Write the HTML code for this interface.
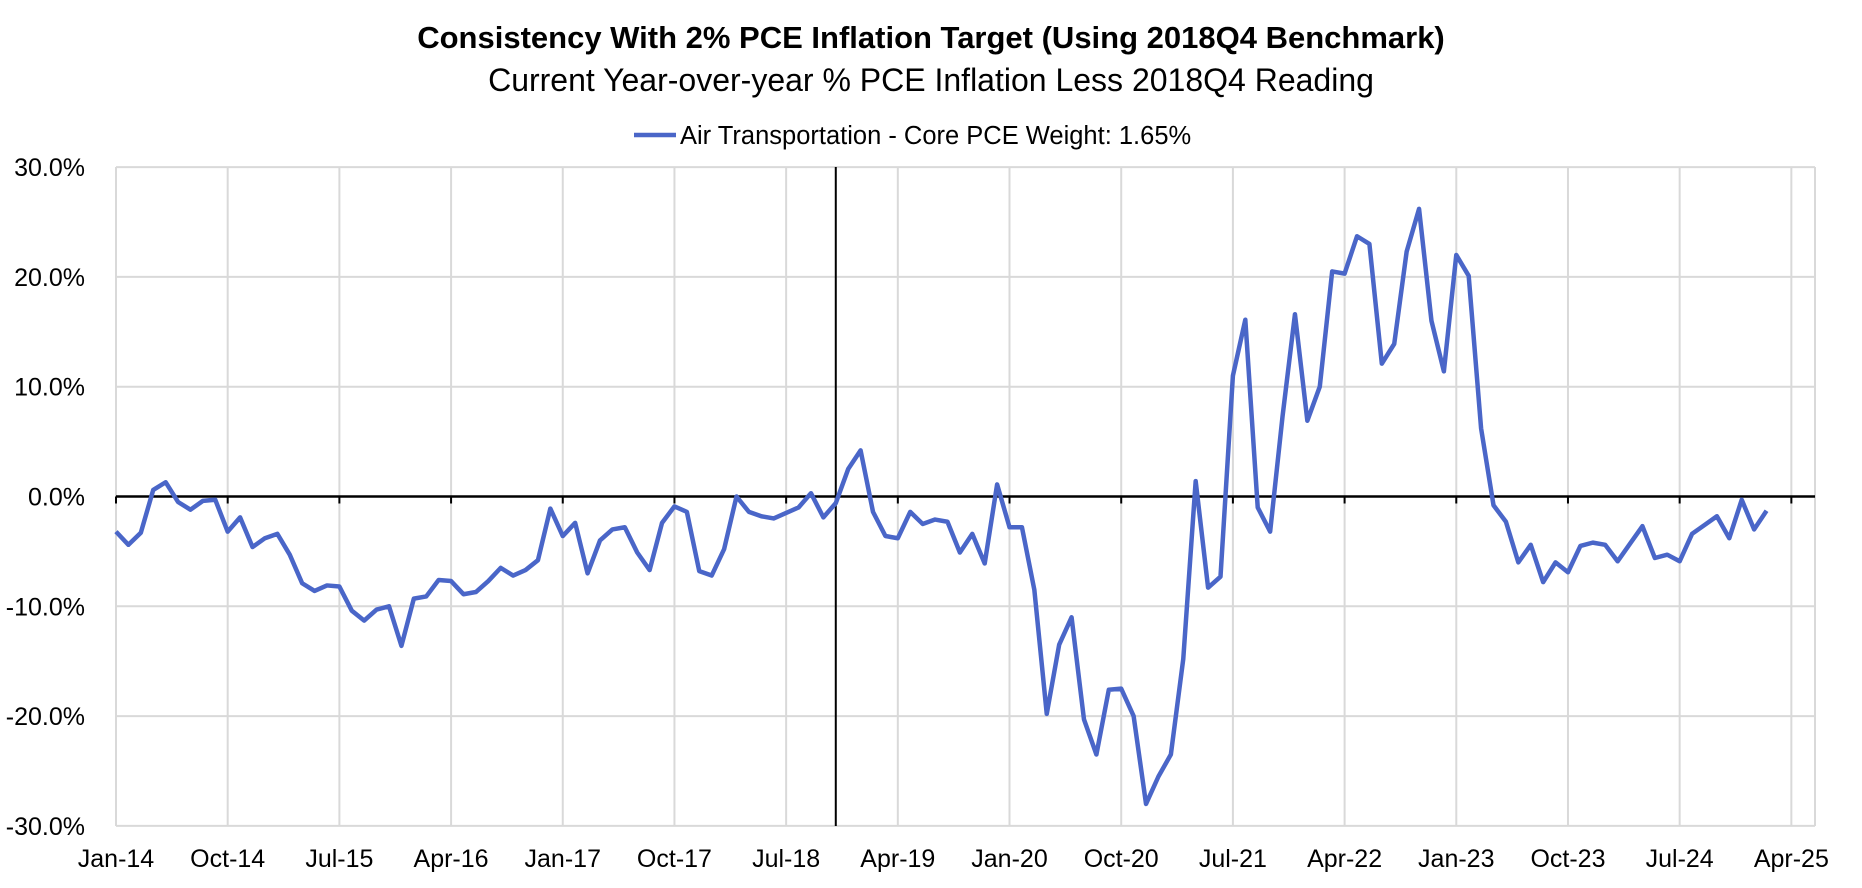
<!DOCTYPE html>
<html><head><meta charset="utf-8"><style>
body{margin:0;background:#fff;}
svg{display:block;font-family:"Liberation Sans",sans-serif;}
</style></head><body>
<svg id="chart" width="1862" height="888">
<text x="931" y="48" text-anchor="middle" font-size="31" font-weight="bold">Consistency With 2% PCE Inflation Target (Using 2018Q4 Benchmark)</text>
<text x="931" y="91" text-anchor="middle" font-size="32">Current Year-over-year % PCE Inflation Less 2018Q4 Reading</text>
<g>
<line x1="634" y1="135" x2="676" y2="135" stroke="#4a66c8" stroke-width="4.5"/>
<text x="680" y="144" font-size="25.5">Air Transportation - Core PCE Weight: 1.65%</text>
</g>
<g id="grid"></g><g id="axes"></g><g id="series"></g>
</svg>
<script>
const categories = ["Jan-14","Oct-14","Jul-15","Apr-16","Jan-17","Oct-17","Jul-18","Apr-19","Jan-20","Oct-20","Jul-21","Apr-22","Jan-23","Oct-23","Jul-24","Apr-25"];
const yTicks = [30,20,10,0,-10,-20,-30];
const yTickLabels = ["30.0%","20.0%","10.0%","0.0%","-10.0%","-20.0%","-30.0%"];
const benchmarkMonth = 58;
const airTransport = [
-3.2,-4.4,-3.3,0.6,1.3,-0.5,-1.2,-0.4,-0.3,-3.2,-1.9,-4.6,
-3.8,-3.4,-5.3,-7.9,-8.6,-8.1,-8.2,-10.4,-11.3,-10.3,-10.0,-13.6,
-9.3,-9.1,-7.6,-7.7,-8.9,-8.7,-7.7,-6.5,-7.2,-6.7,-5.8,-1.1,
-3.6,-2.4,-7.0,-4.0,-3.0,-2.8,-5.1,-6.7,-2.4,-0.9,-1.4,-6.8,
-7.2,-4.8,0.0,-1.4,-1.8,-2.0,-1.5,-1.0,0.3,-1.9,-0.6,2.5,
4.2,-1.4,-3.6,-3.8,-1.4,-2.5,-2.1,-2.3,-5.1,-3.4,-6.1,1.1,
-2.8,-2.8,-8.5,-19.8,-13.5,-11.0,-20.3,-23.5,-17.6,-17.5,-20.0,-28.0,
-25.5,-23.5,-14.8,1.4,-8.3,-7.3,11.0,16.1,-1.0,-3.2,7.3,16.6,
6.9,10.0,20.5,20.3,23.7,23.0,12.1,13.9,22.3,26.2,16.0,11.4,
22.0,20.1,6.2,-0.8,-2.3,-6.0,-4.4,-7.8,-6.0,-6.9,-4.5,-4.2,
-4.4,-5.9,-4.3,-2.7,-5.6,-5.3,-5.9,-3.4,-2.6,-1.8,-3.8,-0.3,
-3.0,-1.3];
const NS="http://www.w3.org/2000/svg";
const L=116,R=1815,T=167,B=826;
const x=m=>L+m*12.41;
const y=v=>496.5-v*10.98;
function mk(tag,attrs,parent){const e=document.createElementNS(NS,tag);for(const k in attrs)e.setAttribute(k,attrs[k]);parent.appendChild(e);return e;}
const grid=document.getElementById('grid'),axes=document.getElementById('axes'),series=document.getElementById('series');
yTicks.forEach((t,i)=>{
 const g=mk('line',{x1:L,x2:R,y1:y(t),y2:y(t),stroke:t===0?'none':'#d9d9d9','stroke-width':2},grid);
 
 
 const tx=mk('text',{x:L-31,y:y(t)+9,'text-anchor':'end','font-size':25},axes);
 tx.textContent=yTickLabels[i];
 
 
});
categories.forEach((c,i)=>{
 const xx=x(i*9);
 const g=mk('line',{x1:xx,x2:xx,y1:T,y2:B,stroke:'#d9d9d9','stroke-width':2},grid);
 
 
 const tk=mk('line',{x1:xx,x2:xx,y1:y(0),y2:y(0)+7,stroke:'#000','stroke-width':2},axes);
 
 
 const tx=mk('text',{x:xx,y:867,'text-anchor':'middle','font-size':25},axes);
 tx.textContent=c;
 
 
});
const rg=mk('line',{x1:R,x2:R,y1:T,y2:B,stroke:'#d9d9d9','stroke-width':2},grid);


const z=mk('line',{x1:L,x2:R,y1:y(0),y2:y(0),stroke:'#000','stroke-width':2.5},axes);


const bl=mk('line',{x1:x(benchmarkMonth),x2:x(benchmarkMonth),y1:T,y2:B,stroke:'#000','stroke-width':2},axes);


const p=mk('polyline',{points:airTransport.map((v,i)=>x(i)+','+y(v)).join(' '),fill:'none',stroke:'#4a66c8','stroke-width':4.5,'stroke-linejoin':'round'},series);


</script>
</body></html>
